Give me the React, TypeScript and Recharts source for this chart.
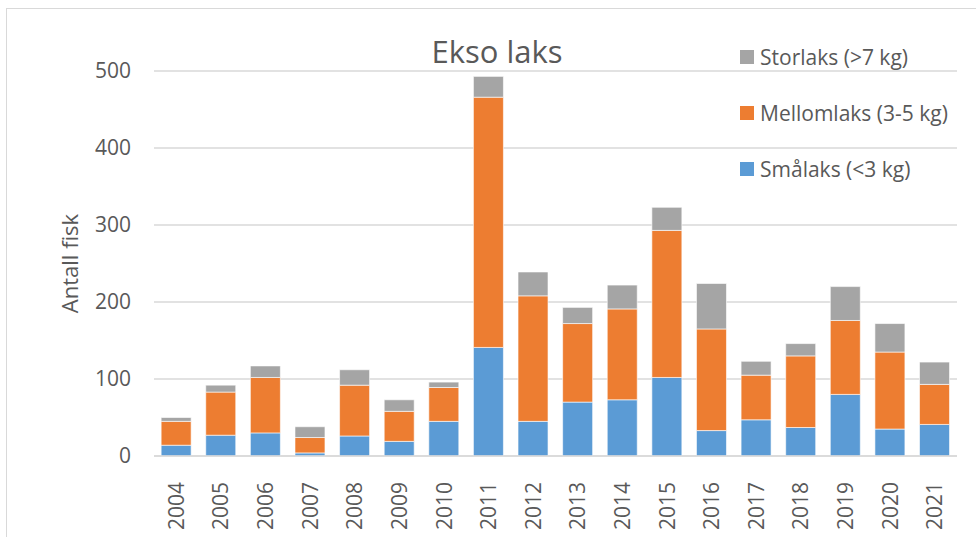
import { BarChart, Bar, XAxis, YAxis, CartesianGrid, Label } from "recharts";

const years = [
  "2004", "2005", "2006", "2007", "2008", "2009", "2010", "2011", "2012",
  "2013", "2014", "2015", "2016", "2017", "2018", "2019", "2020", "2021",
];

// antall fisk per størrelsesgruppe
const smalaks = [14, 27, 30, 4, 26, 19, 45, 141, 45, 70, 73, 102, 33, 47, 37, 80, 35, 41];
const mellomlaks = [31, 56, 72, 20, 66, 39, 44, 325, 163, 102, 118, 191, 132, 58, 93, 96, 100, 52];
const storlaks = [5, 9, 15, 14, 20, 15, 7, 27, 31, 21, 31, 30, 59, 18, 16, 44, 37, 29];

const yTicks = [0, 100, 200, 300, 400, 500];

const BLUE = "#5B9BD5";
const ORANGE = "#ED7D31";
const GRAY = "#A5A5A5";
const TEXT = "#595959";
const FONT = "'Open Sans', sans-serif";

const data = years.map((y, i) => ({
  year: y,
  small: smalaks[i],
  mid: mellomlaks[i],
  big: storlaks[i],
}));

const legendItems = [
  { label: "Storlaks (>7 kg)", color: GRAY },
  { label: "Mellomlaks (3-5 kg)", color: ORANGE },
  { label: "Smålaks (<3 kg)", color: BLUE },
];

const YearTick = ({ x, y, payload }: { x?: number; y?: number; payload?: { value: string } }) => (
  <text
    x={0}
    y={0}
    transform={`translate(${x},${(y ?? 0) + 18}) rotate(-90)`}
    textAnchor="end"
    dy="0.36em"
    fill={TEXT}
    fontSize={21}
    fontFamily={FONT}
  >
    {payload?.value}
  </text>
);

const ChartLegend = () => (
  <div style={{ position: "absolute", left: 740, top: 29, fontFamily: FONT, fontSize: 21, color: TEXT }}>
    {legendItems.map((it) => (
      <div key={it.label} style={{ display: "flex", alignItems: "center", height: 56 }}>
        <span style={{ width: 14, height: 14, background: it.color, marginRight: 6, display: "inline-block" }} />
        <span>{it.label}</span>
      </div>
    ))}
  </div>
);

export default function App() {
  return (
    <div style={{ position: "absolute", left: 0, top: 0, width: 976, height: 537, background: "#fff", overflow: "hidden" }}>
      <div style={{ position: "absolute", left: 6, top: 8, width: 1000, height: 600, border: "1.5px solid #d9d9d9" }} />
      <div
        style={{
          position: "absolute",
          left: 0,
          width: 976,
          top: 30,
          textAlign: "center",
          fontFamily: FONT,
          fontSize: 31,
          color: TEXT,
          paddingLeft: 18,
          boxSizing: "border-box",
        }}
      >
        Ekso laks
      </div>
      <BarChart
        width={976}
        height={537}
        data={data}
        margin={{ top: 71, right: 19, bottom: 0, left: 0 }}
        barCategoryGap="16%"
        style={{ position: "absolute", left: 0, top: 0 }}
      >
        <CartesianGrid vertical={false} stroke="#d9d9d9" strokeWidth={1.3} />
        <XAxis
          dataKey="year"
          interval={0}
          tick={<YearTick />}
          tickLine={false}
          axisLine={{ stroke: "#d9d9d9", strokeWidth: 1.3 }}
          height={81}
        />
        <YAxis
          domain={[0, 500]}
          ticks={yTicks}
          width={154}
          tickSize={0}
          tickMargin={23}
          axisLine={false}
          tickLine={false}
          tick={{ fill: TEXT, fontSize: 21, fontFamily: FONT }}
        >
          <Label
            value="Antall fisk"
            angle={-90}
            position="insideLeft"
            offset={70}
            fill={TEXT}
            fontSize={22}
            fontFamily={FONT}
            style={{ textAnchor: "middle" }}
          />
        </YAxis>
        <Bar dataKey="small" stackId="a" fill={BLUE} stroke="#ffffff" strokeOpacity={0.6} isAnimationActive={false} />
        <Bar dataKey="mid" stackId="a" fill={ORANGE} stroke="#ffffff" strokeOpacity={0.6} isAnimationActive={false} />
        <Bar dataKey="big" stackId="a" fill={GRAY} stroke="#ffffff" strokeOpacity={0.6} isAnimationActive={false} />
      </BarChart>
      <ChartLegend />
    </div>
  );
}
